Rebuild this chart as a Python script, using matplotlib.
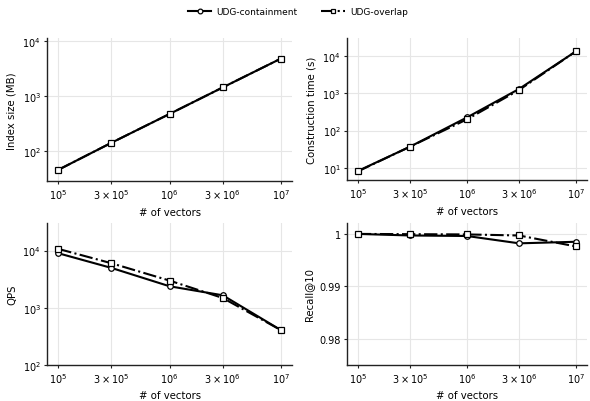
import numpy as np
import matplotlib
matplotlib.use("Agg")
import matplotlib.pyplot as plt
from matplotlib.ticker import FixedLocator, NullLocator, FuncFormatter

# data
n_vectors = [1e5, 3e5, 1e6, 3e6, 1e7]
x_ticklabels = [r"$10^5$", r"$3\times10^5$", r"$10^6$", r"$3\times10^6$", r"$10^7$"]

index_contain = [45, 140, 470, 1430, 4800]
index_overlap = [45, 140, 470, 1430, 4800]

build_contain = [8.3, 37, 225, 1300, 13300]
build_overlap = [8.1, 37, 200, 1220, 13300]

qps_contain = [8980, 4970, 2370, 1650, 405]
qps_overlap = [10700, 6000, 2980, 1480, 405]

recall_contain = [1.0, 0.9997, 0.9996, 0.9982, 0.9985]
recall_overlap = [1.0, 0.99995, 0.9999, 0.9997, 0.9976]

plt.rcParams.update({"font.family": "DejaVu Sans", "font.size": 7,
                     "axes.edgecolor": "#222222", "axes.linewidth": 1.0})

fig = plt.figure(figsize=(5.9, 4.02), dpi=100)
boxes = [(0.080, 0.547, 0.415, 0.355),
         (0.588, 0.550, 0.407, 0.353),
         (0.080, 0.090, 0.415, 0.353),
         (0.588, 0.090, 0.407, 0.353)]
axs = [fig.add_axes(b) for b in boxes]

panels = [
    (index_contain, index_overlap, "Index size (MB)", True, (28, 11200)),
    (build_contain, build_overlap, "Construction time (s)", True, (4.8, 30000)),
    (qps_contain, qps_overlap, "QPS", True, (100, 30500)),
    (recall_contain, recall_overlap, "Recall@10", False, (0.975, 1.0021)),
]

for ax, (yc, yo, ylab, logy, ylim) in zip(axs, panels):
    ax.plot(n_vectors, yc, "-", color="black", lw=1.5, marker="o", ms=4,
            mfc="white", mec="black", mew=0.9, label="UDG-containment", zorder=3)
    ax.plot(n_vectors, yo, "-.", color="black", lw=1.5, marker="s", ms=4,
            mfc="white", mec="black", mew=0.9, label="UDG-overlap", zorder=3)
    ax.set_xscale("log")
    ax.xaxis.set_major_locator(FixedLocator(n_vectors))
    ax.set_xticklabels(x_ticklabels)
    ax.xaxis.set_minor_locator(NullLocator())
    if logy:
        ax.set_yscale("log")
        ax.yaxis.set_minor_locator(NullLocator())
    else:
        ax.set_yticks([0.98, 0.99, 1.0])
        ax.yaxis.set_major_formatter(FuncFormatter(lambda v, p: f"{v:g}"))
    ax.set_ylim(*ylim)
    ax.set_ylabel(ylab, fontsize=7.3)
    ax.set_xlabel("# of vectors", fontsize=7.3)
    ax.grid(True, color="#e6e6e6", lw=0.8, zorder=0)
    ax.set_axisbelow(True)
    for s in ("top", "right"):
        ax.spines[s].set_visible(False)
    ax.tick_params(length=2.5, width=0.8, labelsize=7, color="#222222", pad=2)

handles, labels = axs[0].get_legend_handles_labels()
fig.legend(handles, labels, loc="center", bbox_to_anchor=(0.505, 0.968), ncol=2,
           frameon=False, fontsize=6.5, handlelength=2.6, columnspacing=2.6,
           handletextpad=0.6, markerscale=0.85)

fig.savefig("out.png", dpi=100)
